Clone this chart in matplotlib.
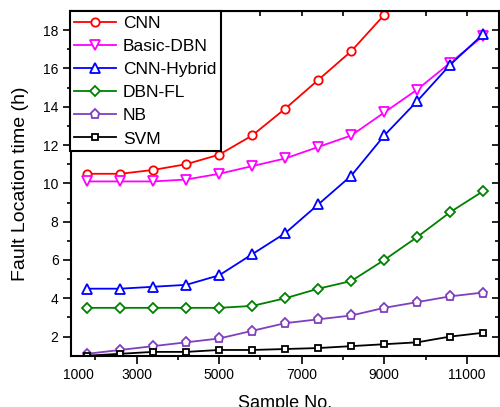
import numpy as np
import matplotlib.pyplot as plt

plt.rcParams["font.family"] = ["Liberation Sans", "DejaVu Sans"]

# sample sizes (13 points, CNN stops at 9000)
samples = [1800, 2600, 3400, 4200, 5000, 5800, 6600, 7400, 8200, 9000, 9800, 10600, 11400]

cnn = [10.5, 10.5, 10.7, 11.0, 11.5, 12.5, 13.9, 15.4, 16.9, 18.8]
basic_dbn = [10.1, 10.1, 10.1, 10.2, 10.5, 10.9, 11.3, 11.9, 12.5, 13.7, 14.9, 16.3, 17.7]
cnn_hybrid = [4.5, 4.5, 4.6, 4.7, 5.2, 6.3, 7.4, 8.9, 10.4, 12.5, 14.3, 16.2, 17.8]
dbn_fl = [3.5, 3.5, 3.5, 3.5, 3.5, 3.6, 4.0, 4.5, 4.9, 6.0, 7.2, 8.5, 9.6]
nb = [1.1, 1.3, 1.5, 1.7, 1.9, 2.3, 2.7, 2.9, 3.1, 3.5, 3.8, 4.1, 4.3]
svm = [1.0, 1.1, 1.2, 1.2, 1.3, 1.3, 1.35, 1.4, 1.5, 1.6, 1.7, 2.0, 2.2]

series = [
    ("CNN", cnn, "#ff0000", "o", 6),
    ("Basic-DBN", basic_dbn, "#ff00ff", "v", 7),
    ("CNN-Hybrid", cnn_hybrid, "#0000ff", "^", 7),
    ("DBN-FL", dbn_fl, "#008000", "D", 5.5),
    ("NB", nb, "#7f3fbf", "p", 6.5),
    ("SVM", svm, "#000000", "s", 5),
]

x_ticks = [1580, 3000, 5000, 7000, 9000, 11000]
x_labels = ["1000", "3000", "5000", "7000", "9000", "11000"]

fig = plt.figure(figsize=(5.0, 4.07), dpi=100)
ax = fig.add_axes([0.142, 0.126, 0.856, 0.847])

for name, vals, col, mk, ms in series:
    ax.plot(samples[:len(vals)], vals, color=col, marker=mk, ms=ms,
            mfc="white", mec=col, mew=1.3, lw=1.3, label=name)

ax.set_xlim(1409, 11780)
ax.set_ylim(1, 19)
ax.set_xticks(x_ticks)
ax.set_xticklabels(x_labels)
ax.set_xticks(np.arange(2000, 11001, 2000), minor=True)
ax.set_yticks(np.arange(2, 19, 2))
ax.set_yticks(np.arange(3, 19, 2), minor=True)
ax.xaxis.get_major_ticks()[0].tick1line.set_visible(False)

for s in ax.spines.values():
    s.set_linewidth(1.5)
ax.tick_params(which="major", direction="out", length=5.5, width=1.2, labelsize=10)
ax.tick_params(which="minor", direction="out", length=3, width=1.2)

# inward ticks on top and right
top = ax.secondary_xaxis("top")
top.set_xticks(np.arange(2000, 11001, 1000))
top.tick_params(direction="in", length=3.5, width=1.2, labeltop=False)
right = ax.secondary_yaxis("right")
right.set_yticks(np.arange(2, 19, 2))
right.set_yticks(np.arange(3, 19, 2), minor=True)
right.tick_params(which="major", direction="in", length=5, width=1.2, labelright=False)
right.tick_params(which="minor", direction="in", length=3, width=1.2)

ax.set_xlabel("Sample No.", fontsize=13, labelpad=9)
ax.set_ylabel("Fault Location time (h)", fontsize=14, labelpad=10)

leg = ax.legend(loc="upper left", bbox_to_anchor=(-0.002, 0.999), fontsize=12.5,
                handlelength=2.4, handletextpad=0.4, labelspacing=0.46,
                borderpad=0.25, borderaxespad=0, fancybox=False, framealpha=1,
                edgecolor="black")
leg.get_frame().set_linewidth(1.5)

fig.savefig("out.png", dpi=100)
